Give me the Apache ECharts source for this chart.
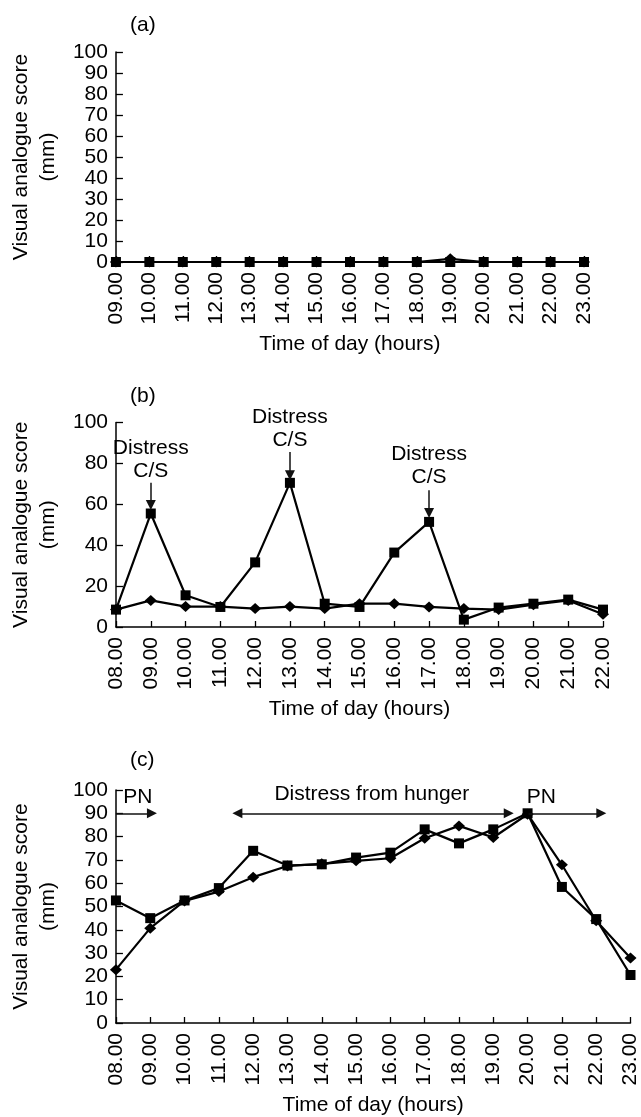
<!DOCTYPE html>
<html>
<head>
<meta charset="utf-8">
<script src="https://cdn.jsdelivr.net/npm/echarts@6/dist/echarts.min.js"></script>
<style>
html,body{margin:0;padding:0;background:#fff;}
#chart{width:641px;height:1117px;}
</style>
</head>
<body>
<div id="chart"></div>
<script>
// ---- data ----
const hoursA = ['09.00','10.00','11.00','12.00','13.00','14.00','15.00','16.00','17.00','18.00','19.00','20.00','21.00','22.00','23.00'];
const aSquares  = [0,0,0,0,0,0,0,0,0,0,0,0,0,0,0];
const aDiamonds = [0,0,0,0,0,0,0,0,0,0,1.5,0,0,0,0];

const hoursB = ['08.00','09.00','10.00','11.00','12.00','13.00','14.00','15.00','16.00','17.00','18.00','19.00','20.00','21.00','22.00'];
const bSquares  = [8.5,55.5,15.5,9.8,31.6,70.5,11.4,9.8,36.4,51.4,3.6,9.5,11.4,13.4,8.5];
const bDiamonds = [8.5,13,10,10,9,10,9,11.4,11.4,9.8,9,8.5,10.9,13,6.2];

const hoursC = ['08.00','09.00','10.00','11.00','12.00','13.00','14.00','15.00','16.00','17.00','18.00','19.00','20.00','21.00','22.00','23.00'];
const cSquares  = [52.6,45,52.6,57.9,73.9,67.6,68.1,71,73.1,83.1,77.1,83.1,90,58.4,44.6,20.6];
const cDiamonds = [22.9,40.7,52.4,56.4,62.6,67.4,68.3,69.6,70.7,79.3,84.6,79.6,89.6,67.9,43.9,27.9];

const yMin = 0, yMax = 100;
const yStepAC = 10, yStepB = 20;

const panelLabels = ['(a)','(b)','(c)'];
const xTitle = 'Time of day (hours)';
const yTitle = 'Visual analogue score\n(mm)';

// annotations (text, x index, y value)
const bNotes = [
  {text:'Distress\nC/S', x:1, y:82},
  {text:'Distress\nC/S', x:5, y:96.9},
  {text:'Distress\nC/S', x:9, y:78.9}
];
const bArrows = [
  [[1,70.5],[1,59.6]],
  [[5,85.6],[5,74.2]],
  [[9,66.9],[9,55.8]]
];
const cNotes = [
  {text:'PN', x:0.64, y:97.1},
  {text:'Distress from hunger', x:7.46, y:98.4},
  {text:'PN', x:12.4, y:97.0}
];
const cArrows = [
  {from:[0,90], to:[1.05,90], both:false},
  {from:[3.54,90], to:[11.45,90], both:true},
  {from:[12.03,90], to:[14.15,90], both:false}
];

// ---- styles ----
const FONT = 'Liberation Sans, Arial, Helvetica, sans-serif';
const TXT = '#000';
const grids = [
  {left:115, top:52,    width:469,   height:210},
  {left:116, top:422.5, width:487,   height:204.5},
  {left:115, top:790,   width:517.5, height:233.3}
];
const cats = [hoursA, hoursB, hoursC];

function catAxis(i){
  return {
    type:'category', gridIndex:i, data:cats[i], boundaryGap:false,
    axisLine:{lineStyle:{color:'#000', width:1.5}},
    axisTick:{inside:true, length:6, lineStyle:{color:'#000', width:1.3}},
    axisLabel:{rotate:90, margin:10, fontSize:21, color:TXT, fontFamily:FONT, interval:0},
    name:xTitle, nameLocation:'middle', nameGap:72,
    nameTextStyle:{fontSize:21, color:TXT, fontFamily:FONT, verticalAlign:'top'},
    splitLine:{show:false}
  };
}
function hiddenX(i){
  return {type:'value', gridIndex:i, min:0, max:cats[i].length-1, show:false};
}
function valAxis(i, step){
  return {
    type:'value', gridIndex:i, min:yMin, max:yMax, interval:step,
    axisLine:{show:true, lineStyle:{color:'#000', width:1.5}},
    axisTick:{show:true, inside:true, length:7, lineStyle:{color:'#000', width:1.3}},
    axisLabel:{margin:8, fontSize:21, color:TXT, fontFamily:FONT},
    splitLine:{show:false},
    name:yTitle, nameLocation:'middle', nameGap:51,
    nameTextStyle:{fontSize:21, color:TXT, fontFamily:FONT, lineHeight:27, align:'center'}
  };
}
function lineSeries(i, data, sym, size){
  return {
    type:'line', xAxisIndex:i, yAxisIndex:i, data:data,
    symbol:sym, symbolSize:size, showSymbol:true,
    lineStyle:{color:'#000', width:2.2},
    itemStyle:{color:'#000'},
    clip:false, z:3, animation:false
  };
}

const series = [];
for (const [i, sq, dm] of [[0,aSquares,aDiamonds],[1,bSquares,bDiamonds],[2,cSquares,cDiamonds]]) {
  series.push(lineSeries(i, sq, 'rect', 10));
  series.push(lineSeries(i, dm, 'diamond', [12,11]));
}

function noteSeries(gi, notes, arrowData){
  return {
    type:'scatter', xAxisIndex:3+gi, yAxisIndex:gi,
    data: notes.map(n => ({value:[n.x, n.y], name:n.text})),
    symbolSize:1, itemStyle:{color:'#fff', opacity:1},
    label:{show:true, position:'inside', formatter:'{b}', fontSize:21, lineHeight:23,
           color:'#000', fontFamily:FONT, textBorderWidth:0, textBorderColor:'transparent',
           opacity:1},
    emphasis:{disabled:true},
    clip:false, silent:true, animation:false, z:5,
    markLine:{
      silent:true, animation:false, precision:3,
      symbol:['none','triangle'], symbolSize:10,
      label:{show:false},
      lineStyle:{color:'#111', width:1.5, type:'solid'},
      data: arrowData
    }
  };
}
series.push(noteSeries(1, bNotes, bArrows.map(a => [
  {coord:a[0], symbol:'none'}, {coord:a[1], symbol:'triangle', symbolSize:10}
])));
series.push(noteSeries(2, cNotes, cArrows.map(a => [
  {coord:a.from, symbol:a.both ? 'triangle' : 'none', symbolSize:10},
  {coord:a.to, symbol:'triangle', symbolSize:10}
])));

const option = {
  backgroundColor:'#fff',
  animation:false,
  title: panelLabels.map((t, i) => ({
    text:t, left:130, top:[15, 386, 750][i], padding:0,
    textStyle:{fontSize:21, fontWeight:'normal', color:TXT, fontFamily:FONT}
  })),
  grid: grids,
  xAxis: [catAxis(0), catAxis(1), catAxis(2), hiddenX(0), hiddenX(1), hiddenX(2)],
  yAxis: [valAxis(0, yStepAC), valAxis(1, yStepB), valAxis(2, yStepAC)],
  series: series
};

const chart = echarts.init(document.getElementById('chart'), null, {renderer:'canvas'});
chart.setOption(option);
</script>
</body>
</html>
